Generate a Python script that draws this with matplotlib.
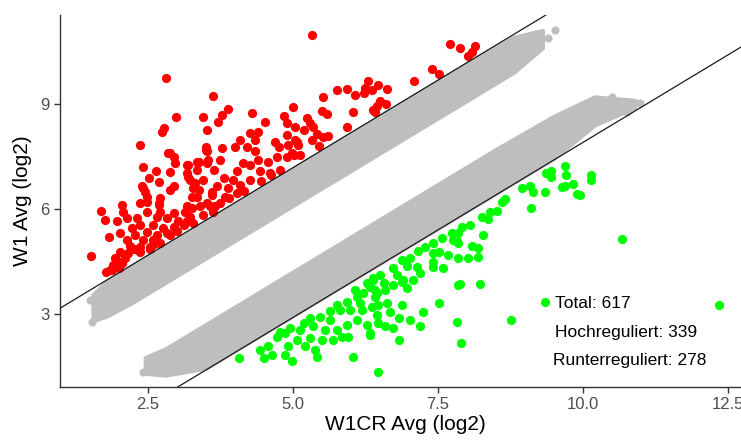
import matplotlib
matplotlib.use("Agg")
import matplotlib.pyplot as plt

plt.rcParams['font.family'] = ['Liberation Sans', 'DejaVu Sans']

# ---------------- data ----------------
red_x = [2.85, 3.49, 2.42, 2.64, 2.88, 2.51, 2.69, 3.18, 3.34, 3.51, 3.63, 3.19, 3.31, 2.39, 2.45,
         2.94, 2.88, 3.37, 3.60, 3.34, 3.51, 2.36, 2.48, 2.69, 2.05, 1.68, 2.07, 2.48, 2.71, 2.94,
         3.14, 3.25, 3.40, 3.66, 1.76, 1.97, 2.13, 2.31, 2.65, 2.82, 3.02, 3.22, 2.22, 2.36, 2.59,
         2.76, 2.94, 3.11, 2.02, 2.28, 2.48, 2.65, 2.82, 1.83, 2.13, 2.42, 2.59, 2.19, 2.36, 2.53,
         2.02, 2.16, 2.33, 1.51, 1.93, 2.10, 1.90, 2.02, 1.84, 1.99,
         2.81, 3.62, 2.98, 3.44, 3.77, 3.87, 3.71, 4.29, 4.52, 4.84, 4.99, 4.89, 5.03, 2.78, 2.74,
         3.52, 4.26, 4.40, 4.34, 4.89, 5.06, 4.09, 4.00, 4.20, 4.69, 4.75, 3.77, 3.50, 3.51, 2.36,
         2.87, 2.94, 2.97, 4.34, 4.40, 4.57, 4.72, 4.89, 5.01, 3.74, 3.54, 3.37, 3.17, 4.14, 4.26,
         3.17, 3.34, 4.03, 4.43, 4.60, 4.78, 3.22, 3.45, 3.80, 3.97, 4.26, 2.42, 3.28, 3.68, 3.88,
         4.09, 2.48, 2.71, 3.25, 3.60, 3.83, 4.03, 2.68, 3.17, 3.57, 3.74,
         5.32, 7.71, 7.87, 8.14, 8.08, 8.02, 7.39, 7.51, 7.09, 6.30, 6.47, 6.24, 6.36, 6.62, 5.75,
         5.93, 6.07, 6.22, 5.52, 6.50, 6.60, 6.44, 5.49, 5.58, 6.03, 6.41, 6.37, 5.24, 5.29, 5.35,
         5.93, 5.18, 5.41, 5.52, 5.61, 5.03, 5.32, 4.92, 5.09, 5.45, 4.98, 5.12,
         3.17, 3.28, 3.45, 3.62, 3.00, 2.88, 2.71, 2.53, 2.36, 2.25, 1.88, 1.78, 2.05, 2.60, 3.90,
         4.15, 4.45, 4.62]
red_y = [7.59, 7.69, 7.19, 7.09, 7.04, 6.88, 6.78, 7.26, 7.35, 7.31, 7.11, 6.92, 6.73, 6.64, 6.49,
         6.64, 6.54, 6.54, 6.49, 6.35, 6.16, 6.16, 6.21, 6.16, 6.11, 5.94, 5.92, 5.92, 5.92, 5.88,
         5.92, 6.02, 6.07, 6.07, 5.67, 5.64, 5.73, 5.73, 5.78, 5.73, 5.64, 5.78, 5.45, 5.54, 5.54,
         5.45, 5.49, 5.54, 5.32, 5.26, 5.35, 5.26, 5.31, 5.21, 5.11, 5.11, 5.11, 4.94, 4.92, 4.92,
         4.78, 4.73, 4.83, 4.66, 4.59, 4.59, 4.40, 4.49, 4.26, 4.31,
         9.73, 9.23, 8.62, 8.62, 8.69, 8.85, 8.49, 8.75, 8.49, 8.66, 8.92, 8.45, 8.35, 8.31, 8.21,
         8.24, 8.16, 8.21, 7.97, 8.11, 7.92, 7.97, 7.76, 7.78, 7.92, 7.76, 7.73, 7.76, 7.64, 7.83,
         7.61, 7.49, 7.31, 7.64, 7.40, 7.35, 7.49, 7.49, 7.54, 7.40, 7.40, 7.35, 7.26, 7.31, 7.26,
         7.02, 7.11, 7.07, 7.07, 7.02, 7.11, 6.83, 6.83, 6.88, 6.83, 6.83, 6.59, 6.59, 6.64, 6.59,
         6.69, 6.35, 6.31, 6.35, 6.40, 6.35, 6.45, 6.11, 6.07, 6.07, 6.16,
         10.97, 10.71, 10.59, 10.66, 10.49, 10.37, 9.99, 9.86, 9.66, 9.66, 9.54, 9.45, 9.40, 9.42, 9.40,
         9.42, 9.26, 9.31, 9.21, 9.07, 9.00, 8.94, 8.81, 8.71, 8.78, 8.78, 8.83, 8.59, 8.45, 8.35,
         8.33, 8.26, 8.14, 8.05, 8.07, 7.97, 7.97, 7.83, 7.83, 7.80, 7.59, 7.54,
         5.64, 5.59, 5.83, 5.92, 5.37, 5.26, 5.02, 4.86, 4.76, 4.86, 4.25, 4.19, 4.46, 5.00, 6.30,
         6.50, 6.80, 6.98]

green_x = [4.07, 4.43, 4.49, 4.57, 4.63, 4.72, 4.86, 4.92, 4.86, 4.98, 5.06, 5.21, 5.12, 5.29, 5.38,
           5.42, 5.35, 5.49, 5.55, 5.64, 5.69, 5.75, 5.84, 5.93, 5.95, 6.04, 6.10, 6.18, 6.27, 6.33,
           6.47, 6.44, 5.98, 5.81, 5.64, 5.47, 5.29, 5.18, 4.95, 4.78, 5.75, 5.93, 6.10, 6.07, 6.21,
           6.27, 6.38, 6.44, 6.47, 6.36, 6.16,
           9.37, 8.94, 9.09, 9.14, 9.34, 9.11, 8.66, 8.60, 8.51, 8.40, 8.25, 8.37, 8.05, 7.91, 7.85,
           7.74, 7.56, 8.28, 7.82, 7.76, 7.85, 8.08, 8.19, 7.42, 7.28, 7.16, 7.42, 7.51, 7.68, 7.85,
           8.02, 8.19, 7.02, 6.87, 7.42, 7.42, 7.59, 7.13, 6.96, 6.73, 6.79, 7.19, 6.50, 6.38, 6.90,
           7.07, 6.56, 6.73, 6.96, 7.85, 7.88, 8.22, 6.41,
           6.33, 6.41, 6.62, 6.87, 6.67, 6.82, 6.47, 6.59, 6.73, 7.02, 7.24, 7.19, 7.52, 7.82, 8.75,
           9.34, 6.82, 7.90, 6.33, 6.87, 6.59,
           9.69, 9.44, 9.44, 9.71, 10.13, 10.13, 9.83, 9.63, 9.69, 9.89, 9.95, 10.67, 12.35]
green_y = [1.73, 1.97, 1.73, 2.07, 1.83, 2.35, 2.45, 2.07, 1.83, 1.64, 2.26, 2.07, 2.54, 2.31, 1.97,
           1.76, 2.64, 2.26, 2.54, 2.83, 2.26, 2.54, 2.35, 2.69, 2.35, 1.78, 2.83, 3.11, 2.69, 2.40,
           1.35, 2.97, 3.11, 3.11, 3.07, 2.92, 2.88, 2.73, 2.59, 2.49, 3.26, 3.35, 3.49, 3.69, 3.59,
           3.88, 3.97, 3.59, 3.26, 3.21, 3.31,
           7.02, 6.59, 6.64, 6.49, 6.49, 6.02, 6.28, 6.21, 5.95, 5.92, 5.78, 5.71, 5.54, 5.49, 5.31,
           5.32, 5.16, 5.26, 5.07, 5.11, 5.02, 4.94, 4.88, 5.02, 4.91, 4.81, 4.73, 4.78, 4.69, 4.59,
           4.59, 4.62, 4.59, 4.54, 4.49, 4.35, 4.31, 4.35, 4.37, 4.31, 4.11, 4.16, 4.11, 4.02, 3.97,
           3.97, 3.88, 3.83, 3.73, 3.83, 3.86, 3.86, 3.69,
           3.78, 3.49, 3.31, 3.26, 3.04, 2.88, 2.73, 2.64, 2.59, 2.83, 3.05, 2.66, 3.31, 2.78, 2.83,
           3.34, 2.24, 2.16, 2.45, 3.92, 3.69,
           7.23, 7.09, 6.91, 6.97, 6.97, 6.83, 6.71, 6.62, 6.64, 6.43, 6.40, 5.13, 3.26]

# grey point bands (outline of the dense cloud) and isolated grey points
upper_band_x = [1.55, 1.8, 2.2, 3.0, 4.0, 5.0, 6.0, 7.0, 8.0, 8.8, 9.3]
upper_band_lo = [2.8, 2.95, 3.3, 4.1, 5.1, 6.1, 7.1, 8.1, 9.1, 9.9, 10.6]
upper_band_hi = [3.55, 3.95, 4.35, 5.15, 6.15, 7.15, 8.15, 9.15, 10.15, 10.9, 11.1]
lower_band_x = [2.45, 2.8, 3.5, 4.5, 5.5, 6.5, 7.5, 8.5, 9.5, 10.2, 10.9]
lower_band_lo = [1.3, 1.25, 1.45, 2.45, 3.45, 4.45, 5.45, 6.45, 7.45, 8.4, 8.9]
lower_band_hi = [1.75, 2.0, 2.7, 3.7, 4.7, 5.7, 6.7, 7.7, 8.65, 9.2, 9.1]
gray_x = [1.50, 1.53, 1.59, 10.26, 10.50, 10.76, 10.98, 10.03, 9.26, 9.40, 9.52, 2.41, 2.53]
gray_y = [3.40, 2.77, 3.11, 9.09, 9.20, 8.77, 9.03, 8.83, 10.69, 10.89, 11.11, 1.34, 1.63]

line_intercepts = [2.18, -2.1]
xticks = [2.5, 5.0, 7.5, 10.0, 12.5]
yticks = [3, 6, 9]
notes = ["Total: 617", "Hochreguliert: 339", "Runterreguliert: 278"]
note_x = [9.52, 9.52, 9.48]
note_y = [3.31, 2.46, 1.66]

# ---------------- figure ----------------
W, H = 741, 444
fig = plt.figure(figsize=(W / 100, H / 100), dpi=100)
ax = fig.add_axes([60 / W, 1 - 387 / H, (750 - 60) / W, (387 - 15) / H])

grey = '#BEBEBE'
for bx, lo, hi in [(upper_band_x, upper_band_lo, upper_band_hi),
                   (lower_band_x, lower_band_lo, lower_band_hi)]:
    ax.fill_between(bx, lo, hi, color=grey, lw=3, edgecolor=grey, zorder=1)
ax.scatter(gray_x, gray_y, s=34, color=grey, lw=0, zorder=1)
ax.scatter(red_x, red_y, s=44, color='#FF0000', lw=0, zorder=2)
ax.scatter(green_x, green_y, s=44, color='#00FF00', lw=0, zorder=2)

for c in line_intercepts:
    ax.axline((0, c), slope=1, color='#1a1a1a', lw=0.9, zorder=3)

for t, tx, ty in zip(notes, note_x, note_y):
    ax.text(tx, ty, t, fontsize=12.5, color='#000000', ha='left', va='center')

ax.set_xlim(0.98, 12.88)
ax.set_ylim(0.91, 11.54)
ax.set_xticks(xticks)
ax.set_xticklabels([f"{v:.1f}" for v in xticks])
ax.set_yticks(yticks)
for s in ['top', 'right']:
    ax.spines[s].set_visible(False)
for s in ['left', 'bottom']:
    ax.spines[s].set_color('#333333')
    ax.spines[s].set_linewidth(1.0)
ax.tick_params(axis='both', colors='#333333', labelcolor='#4D4D4D', labelsize=12, length=4, width=1.0)
ax.set_xlabel("W1CR Avg (log2)", fontsize=15, color='#000000', labelpad=2)
ax.set_ylabel("W1 Avg (log2)", fontsize=15, color='#000000', labelpad=6)

fig.savefig("out.png", dpi=100)
